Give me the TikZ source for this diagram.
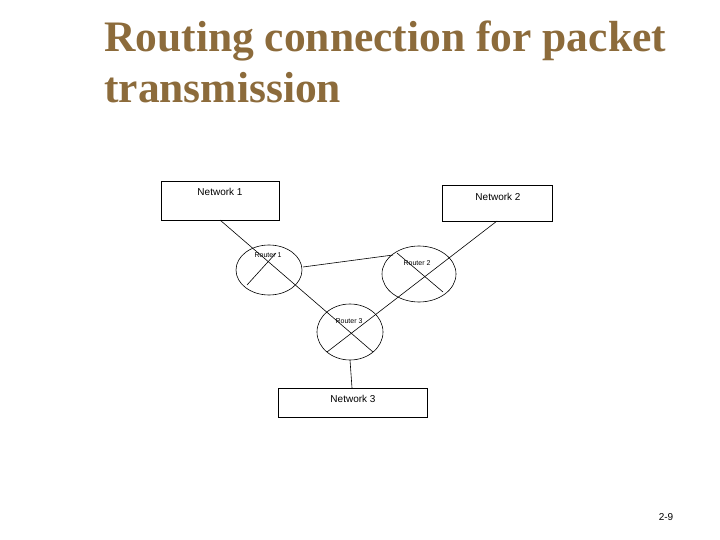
\documentclass[tikz,border=0pt]{standalone}
\usepackage{fontspec}
\setmainfont{Liberation Serif}
\newfontfamily\arialf{Liberation Sans}
\definecolor{titlec}{HTML}{8C6B3B}
\begin{document}
\begin{tikzpicture}[x=1pt,y=-1pt,
  lbl/.style={font=\arialf\fontsize{10}{12}\selectfont,inner sep=0},
  rlbl/.style={font=\arialf\fontsize{7}{8}\selectfont,inner sep=0},
  ln/.style={line width=0.6pt}]
\useasboundingbox (0,0) rectangle (720,540);
\node[anchor=base west,inner sep=0,text=titlec,font=\bfseries\fontsize{43.5}{48}\selectfont] (t1) at (104,52) {Routing connection for packet};
\node[anchor=base west,inner sep=0,text=titlec,font=\bfseries\fontsize{43.5}{48}\selectfont] (t2) at (104,103) {transmission};
\draw[ln] (161,181) rectangle (279,220);
\node[lbl] (n1) at (220,192) {Network 1};
\draw[ln] (442,185) rectangle (552,221);
\node[lbl] (n2) at (498,197) {Network 2};
\draw[ln] (278,388) rectangle (427,417);
\node[lbl] (n3) at (353,399) {Network 3};
\draw[ln] (269,270) ellipse [x radius=33, y radius=25];
\draw[ln] (419,274) ellipse [x radius=37, y radius=28];
\draw[ln] (350,332) ellipse [x radius=33, y radius=28];
\node[rlbl] (r1) at (268,255) {Router 1};
\node[rlbl] (r2) at (417,263) {Router 2};
\node[rlbl] (r3) at (349,321) {Router 3};
\coordinate (a1) at (220,220); \coordinate (a2) at (373,352);
\coordinate (b1) at (497,221); \coordinate (b2) at (327,352);
\draw[ln] (a1) -- (a2);
\draw[ln] (b1) -- (b2);
\coordinate (c1) at (247,285); \coordinate (c2) at (276,253);
\draw[ln] (c1) -- (c2);
\coordinate (d1) at (397,253); \coordinate (d2) at (443,292);
\draw[ln] (d1) -- (d2);
\coordinate (e1) at (303,267); \coordinate (e2) at (393,255);
\draw[ln] (e1) -- (e2);
\coordinate (f1) at (350,360); \coordinate (f2) at (352,388);
\draw[ln] (f1) -- (f2);
\node[lbl] (pg) at (666,517) {2-9};
\end{tikzpicture}
\end{document}
